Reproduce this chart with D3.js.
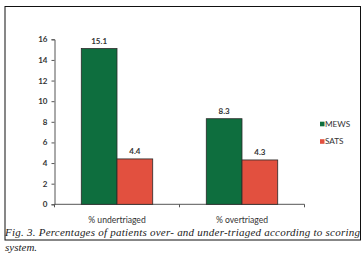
<!DOCTYPE html>
<html>
<head>
<meta charset="utf-8">
<script src="https://cdn.jsdelivr.net/npm/d3@7"></script>
<style>
  body { margin: 0; background: #fff; }
  svg { display: block; }
</style>
</head>
<body>
<svg id="chart"></svg>
<script>
const categories = ['% undertriaged', '% overtriaged'];
const seriesNames = ['MEWS', 'SATS'];
const mewsValues = [15.1, 8.3];
const satsValues = [4.4, 4.3];
const yTicks = [0, 2, 4, 6, 8, 10, 12, 14, 16];
const caption = [
  'Fig. 3. Percentages of patients over- and under-triaged according to scoring',
  'system.'
];

const colors = { MEWS: '#0e6e3e', SATS: '#e2503f' };

const W = 364, H = 276;
const svg = d3.select('#chart').attr('width', W).attr('height', H);

// frame round the chart
svg.append('rect')
  .attr('x', 5).attr('y', 6.5)
  .attr('width', 355.5).attr('height', 233.5)
  .attr('fill', 'none')
  .attr('stroke', '#111')
  .attr('stroke-width', 1);

const plot = { left: 54.5, right: 304.5, top: 39.3, bottom: 204.3 };

const y = d3.scaleLinear().domain([0, 16]).range([plot.bottom, plot.top]);
const x0 = d3.scaleBand().domain(categories).range([plot.left, plot.right]);
const x1 = d3.scaleBand().domain(seriesNames)
  .range([0, x0.bandwidth()])
  .paddingInner(0)
  .paddingOuter(0.75);

const font = 'Lato, "Open Sans", sans-serif';

// y axis
const yAxis = svg.append('g')
  .attr('transform', `translate(${plot.left},0)`)
  .call(d3.axisLeft(y).tickValues(yTicks).tickSize(3).tickPadding(4));
yAxis.select('.domain').attr('stroke', '#555');
yAxis.selectAll('.tick line').attr('stroke', '#555');
yAxis.selectAll('text')
  .attr('font-family', font)
  .attr('font-size', 8)
  .attr('font-weight', 'bold')
  .attr('fill', '#333');

// x axis line with ticks at band edges
const xAxis = svg.append('g').attr('transform', `translate(0,${plot.bottom})`);
xAxis.append('line')
  .attr('x1', plot.left).attr('x2', plot.right)
  .attr('stroke', '#555');
const edges = categories.map(c => x0(c)).concat([x0(categories[1]) + x0.bandwidth()]);
xAxis.selectAll('.xtick')
  .data(edges)
  .join('line')
  .attr('class', 'xtick')
  .attr('x1', d => d).attr('x2', d => d)
  .attr('y1', 0).attr('y2', 3)
  .attr('stroke', '#555');
xAxis.selectAll('.xlabel')
  .data(categories)
  .join('text')
  .attr('class', 'xlabel')
  .attr('x', d => x0(d) + x0.bandwidth() / 2)
  .attr('y', 18.5)
  .attr('text-anchor', 'middle')
  .attr('font-family', font)
  .attr('font-size', 8.6)
  .attr('fill', '#333')
  .text(d => d);

// bars
const rows = categories.map((c, i) => ({
  category: c,
  values: [
    { key: 'MEWS', value: mewsValues[i] },
    { key: 'SATS', value: satsValues[i] }
  ]
}));

const groups = svg.selectAll('.group')
  .data(rows)
  .join('g')
  .attr('class', 'group')
  .attr('transform', d => `translate(${x0(d.category)},0)`);

groups.selectAll('rect')
  .data(d => d.values)
  .join('rect')
  .attr('x', d => x1(d.key))
  .attr('y', d => y(d.value))
  .attr('width', x1.bandwidth())
  .attr('height', d => plot.bottom - y(d.value))
  .attr('fill', d => colors[d.key])
  .attr('stroke', '#2a2a2a')
  .attr('stroke-width', 0.8);

groups.selectAll('.value-label')
  .data(d => d.values)
  .join('text')
  .attr('class', 'value-label')
  .attr('x', d => x1(d.key) + x1.bandwidth() / 2)
  .attr('y', d => y(d.value) - 5)
  .attr('text-anchor', 'middle')
  .attr('font-family', font)
  .attr('font-size', 8)
  .attr('font-weight', 'bold')
  .attr('fill', '#333')
  .text(d => d.value.toFixed(1));

// legend
const legend = svg.append('g').attr('transform', 'translate(320,124)');
legend.selectAll('g')
  .data(seriesNames)
  .join('g')
  .attr('transform', (d, i) => `translate(0,${i * 17.5})`)
  .each(function (d) {
    const g = d3.select(this);
    g.append('rect')
      .attr('x', 0).attr('y', -2.3)
      .attr('width', 4.5).attr('height', 4.6)
      .attr('fill', colors[d]);
    g.append('text')
      .attr('x', 5)
      .attr('dy', '0.35em')
      .attr('font-family', font)
      .attr('font-size', 8.2)
      .attr('fill', '#333')
      .text(d);
  });

// caption
svg.append('g').selectAll('text')
  .data(caption)
  .join('text')
  .attr('x', 5)
  .attr('y', (d, i) => 236 + i * 15)
  .attr('font-family', '"Liberation Serif", serif')
  .attr('font-style', 'italic')
  .attr('font-size', 11)
  .attr('fill', '#222')
  .attr('textLength', (d, i) => i === 0 ? 355 : null)
  .attr('lengthAdjust', 'spacing')
  .text(d => d);
</script>
</body>
</html>
